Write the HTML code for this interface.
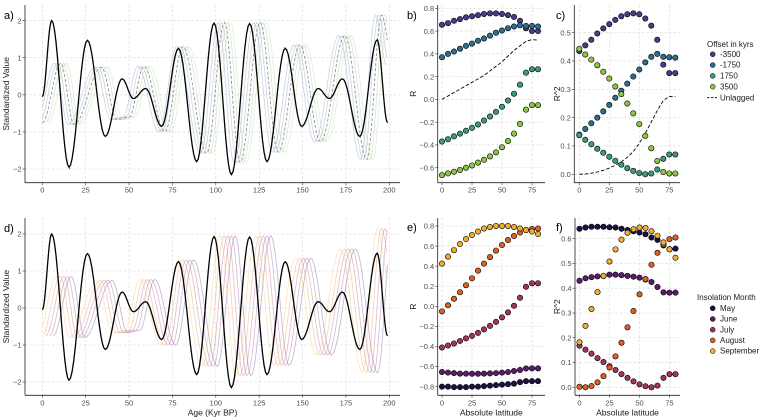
<!DOCTYPE html>
<html><head><meta charset="utf-8"><style>
html,body{margin:0;padding:0;background:#fff;}
svg{display:block;font-family:"Liberation Sans",sans-serif;}
.tk{font-size:7.5px;fill:#4d4d4d;}
.ttl{font-size:8.5px;fill:#1a1a1a;}
.lt{font-size:11px;fill:#000;}
.lg{font-size:8px;fill:#1a1a1a;}
</style></head><body>
<svg id="root" width="761" height="420" viewBox="0 0 761 420"></svg>
<script>
// ---------- data ----------
const blackT = [0,5.4,15.4,26,36.3,46,52.5,59.6,68.8,78.5,89,99,109,119.5,129.5,140,149.5,159,165.5,173,183,193,199];
const blackV = [-0.05,2.0,-1.95,1.47,-1.12,0.43,-0.1,0.17,-0.85,1.25,-1.8,1.93,-2.15,1.92,-1.8,1.25,-0.85,0.17,-0.1,0.43,-1.12,1.48,-0.75];
const baseT = [0,10.6,18.3,34,43,50,58.6,70.7,81,94.7,105,114,125.5,136,148.5,160.4,174.4,187,195.6,202];
const baseV = [-0.75,0.85,-0.8,0.75,-0.67,-0.6,0.77,-1.0,1.3,-1.58,1.95,-1.83,1.95,-1.55,1.35,-1.27,1.6,-1.75,2.15,0.8];
const offsetLags = [-3.5,-1.75,0,1.75,3.5];
const monthLags = [6.2,4,1.9,-0.2,-2.5];
const lat = [0,5,10,15,20,25,30,35,40,45,50,55,60,65,70,75,80];
const offNames = ["-3500","-1750","1750","3500"];
const offColors = ["#433f85","#2d6e8e","#3a9a7a","#8cc63f"];
const bR = [
 [0.655,0.67,0.69,0.705,0.72,0.73,0.74,0.75,0.755,0.755,0.75,0.74,0.725,0.69,0.625,0.60,0.60],
 [0.37,0.40,0.42,0.445,0.47,0.49,0.515,0.535,0.56,0.585,0.605,0.625,0.64,0.65,0.645,0.645,0.64],
 [-0.37,-0.35,-0.325,-0.30,-0.275,-0.25,-0.22,-0.185,-0.15,-0.11,-0.065,-0.01,0.05,0.13,0.235,0.265,0.265],
 [-0.665,-0.65,-0.635,-0.62,-0.60,-0.58,-0.555,-0.53,-0.50,-0.465,-0.42,-0.365,-0.30,-0.215,-0.09,-0.05,-0.05]];
const bUnlag = [0,0.03,0.06,0.09,0.12,0.15,0.18,0.21,0.25,0.29,0.33,0.38,0.43,0.47,0.51,0.525,0.52];
const cR2 = [
 [0.435,0.455,0.475,0.497,0.515,0.53,0.545,0.558,0.565,0.568,0.565,0.55,0.525,0.475,0.387,0.357,0.357],
 [0.14,0.16,0.18,0.2,0.222,0.245,0.27,0.295,0.32,0.345,0.37,0.395,0.415,0.425,0.415,0.413,0.412],
 [0.138,0.122,0.106,0.09,0.076,0.062,0.048,0.034,0.022,0.012,0.004,0.0,0.003,0.017,0.055,0.07,0.07],
 [0.443,0.423,0.405,0.385,0.362,0.338,0.31,0.283,0.25,0.215,0.177,0.135,0.092,0.047,0.008,0.003,0.003]];
const cUnlag = [0,0.001,0.004,0.008,0.014,0.022,0.032,0.044,0.06,0.08,0.11,0.145,0.185,0.225,0.26,0.275,0.275];
const monNames = ["May","June","July","August","September"];
const monColors = ["#1f0f47","#5f1a6e","#a3345a","#de5f26","#f2ae2a"];
const eR = [
 [-0.80,-0.80,-0.805,-0.805,-0.805,-0.80,-0.80,-0.795,-0.79,-0.785,-0.78,-0.775,-0.77,-0.755,-0.745,-0.745,-0.745],
 [-0.655,-0.66,-0.665,-0.67,-0.67,-0.672,-0.672,-0.67,-0.668,-0.665,-0.66,-0.655,-0.645,-0.635,-0.62,-0.618,-0.618],
 [-0.41,-0.39,-0.37,-0.345,-0.32,-0.295,-0.265,-0.23,-0.195,-0.155,-0.11,-0.06,0.005,0.085,0.195,0.23,0.23],
 [-0.05,0.01,0.075,0.14,0.21,0.28,0.355,0.425,0.49,0.555,0.61,0.66,0.70,0.735,0.76,0.77,0.775],
 [0.425,0.495,0.56,0.62,0.67,0.71,0.745,0.775,0.79,0.80,0.80,0.80,0.79,0.775,0.76,0.745,0.72]];
const fR2 = [
 [0.64,0.645,0.648,0.648,0.648,0.646,0.645,0.64,0.635,0.63,0.625,0.618,0.605,0.595,0.573,0.558,0.56],
 [0.43,0.44,0.445,0.448,0.45,0.455,0.455,0.453,0.45,0.447,0.443,0.435,0.425,0.405,0.383,0.382,0.382],
 [0.168,0.152,0.136,0.118,0.102,0.085,0.07,0.053,0.038,0.024,0.012,0.004,0.0,0.007,0.038,0.053,0.053],
 [0.002,0.0,0.005,0.02,0.045,0.08,0.125,0.18,0.242,0.308,0.375,0.437,0.495,0.543,0.577,0.598,0.605],
 [0.182,0.248,0.316,0.384,0.45,0.508,0.557,0.596,0.624,0.638,0.645,0.643,0.63,0.612,0.585,0.557,0.523]];
const ageTicks = [0,25,50,75,100,125,150,175,200];
const stdTicks = [-2,-1,0,1,2];
const latTicks = [0,25,50,75];
const bTicks = [-0.6,-0.4,-0.2,0.0,0.2,0.4,0.6,0.8];
const cTicks = [0.0,0.1,0.2,0.3,0.4,0.5];
const eTicks = [-0.8,-0.6,-0.4,-0.2,0.0,0.2,0.4,0.6,0.8];
const fTicks = [0.0,0.1,0.2,0.3,0.4,0.5,0.6];

// ---------- helpers ----------
const NS="http://www.w3.org/2000/svg";
const root=document.getElementById('root');
function mk(tag,attrs,parent){const e=document.createElementNS(NS,tag);for(const k in attrs)e.setAttribute(k,attrs[k]);(parent||root).appendChild(e);return e;}
function txt(s,x,y,cls,anchor,parent,rot){const e=mk('text',{x:x,y:y,class:cls,'text-anchor':anchor||'start'},parent);if(rot)e.setAttribute('transform','rotate(-90 '+x+' '+y+')');e.textContent=s;return e;}
function fmt(v,d){let s=v.toFixed(d);if(v<0)s='\u2212'+Math.abs(v).toFixed(d);return s;}

function panel(name,P){
  const g=mk('g',{});
  
  
  const sx=v=>P.x0+(v-P.xmin)*P.kx, sy=v=>P.y0-(v-P.ymin)*P.ky;
  P.xt.forEach(v=>{const l=mk('line',{x1:sx(v),x2:sx(v),y1:P.top,y2:P.bot,stroke:'#d6d6d6','stroke-width':0.6,'stroke-dasharray':'2.5,2'},g);});
  P.yt.forEach(v=>{const l=mk('line',{x1:P.left,x2:P.right,y1:sy(v),y2:sy(v),stroke:'#d6d6d6','stroke-width':0.6,'stroke-dasharray':'2.5,2'},g);});
  const ax=mk('line',{x1:P.left,x2:P.right,y1:P.bot,y2:P.bot,stroke:'#222','stroke-width':0.8},g);
  const ay=mk('line',{x1:P.left,x2:P.left,y1:P.top,y2:P.bot,stroke:'#222','stroke-width':0.8},g);
  P.xt.forEach(v=>{mk('line',{x1:sx(v),x2:sx(v),y1:P.bot,y2:P.bot+2.5,stroke:'#333','stroke-width':0.6},g);const t=txt(String(v),sx(v),P.bot+10,'tk','middle',g);});
  P.yt.forEach(v=>{mk('line',{x1:P.left-2.5,x2:P.left,y1:sy(v),y2:sy(v),stroke:'#333','stroke-width':0.6},g);const t=txt(fmt(v,P.yd),P.left-3.5,sy(v)+2.7,'tk','end',g);});
  const yl=txt(P.ylab,P.ylx,(P.top+P.bot)/2,'ttl','middle',g,true);
  if(P.xlab){const xl=txt(P.xlab,(P.left+P.right)/2,P.bot+20,'ttl','middle',g);}
  const pl=txt(P.letter,P.lx,P.ly,'lt','start',g);
  const clip='c'+name;const cp=mk('clipPath',{id:clip},g);mk('rect',{x:P.left,y:P.top-3,width:P.right-P.left,height:P.bot-P.top+3},cp);
  const data=mk('g',{'clip-path':'url(#'+clip+')'},g);
  return {g:data,sx:sx,sy:sy};
}
function wavePath(T,V,lag,sx,sy,lo,hi){
  let d='';
  for(let i=0;i<T.length-1;i++){
    for(let s=0;s<=12;s++){
      const f=s/12;const t=T[i]+(T[i+1]-T[i])*f+lag;
      if(t<lo||t>hi)continue;
      const v=V[i]+(V[i+1]-V[i])*(1-Math.cos(Math.PI*f))/2;
      d+=(d?'L':'M')+sx(t).toFixed(2)+','+sy(v).toFixed(2);
    }
  }
  return d;
}
function tsPanel(name,P,lags,colors,dashIdx){
  const p=panel(name,P);
  lags.forEach((lag,i)=>{
    const path=mk('path',{d:wavePath(baseT,baseV,lag,p.sx,p.sy,0,199),fill:'none',stroke:colors[i],'stroke-width':0.85,'stroke-opacity':i===dashIdx?0.85:0.4,'stroke-dasharray':i===dashIdx?'3,2':'none'},p.g);
    
    
  });
  const bl=mk('path',{d:wavePath(blackT,blackV,0,p.sx,p.sy,0,199),fill:'none',stroke:'#000','stroke-width':1.3},p.g);
  
  
}
function scatterPanel(name,P,series,colors,unlag){
  const p=panel(name,P);
  if(unlag){
    let d='';lat.forEach((x,i)=>{d+=(i?'L':'M')+p.sx(x).toFixed(2)+','+p.sy(unlag[i]).toFixed(2);});
    const l=mk('path',{d:d,fill:'none',stroke:'#000','stroke-width':0.9,'stroke-dasharray':'3.5,2'},p.g);
    
    
  }
  series.forEach((s,k)=>{
    s.forEach((v,i)=>{
      const c=mk('circle',{cx:p.sx(lat[i]),cy:p.sy(v),r:2.7,fill:colors[k],stroke:'#000','stroke-width':0.6},p.g);
      
      
    });
  });
}

// ---------- panels ----------
const aP={x0:42.3,xmin:0,kx:1.735,y0:94.8,ymin:0,ky:37.1,left:25,right:400,top:5,bot:182.7,xt:ageTicks,yt:stdTicks,yd:0,ylab:'Standardized Value',ylx:9,letter:'a)',lx:4,ly:19};
const dP=Object.assign({},aP,{y0:308,ky:37,top:218,bot:395.3,letter:'d)',ly:232,xlab:'Age (Kyr BP)'});
const offColorsLine=["#8a90c0","#7aa0b8","#777777","#99c7a0","#b5dc8f"];
tsPanel('panel-a',aP,offsetLags,offColorsLine,2);
const monColorsLine=["#6a4a8f","#9a5a9a","#c0607a","#e99060","#f5c25a"];
tsPanel('panel-d',dP,monthLags,monColorsLine,-1);

const bP={x0:442,xmin:0,kx:1.2,y0:99.4,ymin:0,ky:113.9,left:437.7,right:545,top:5,bot:182.7,xt:latTicks,yt:bTicks,yd:1,ylab:'R',ylx:416,letter:'b)',lx:407,ly:19};
scatterPanel('panel-b',bP,bR,offColors,bUnlag);
const cP={x0:579.3,xmin:0,kx:1.2,y0:174.3,ymin:0,ky:283.3,left:574.3,right:680,top:5,bot:182.7,xt:latTicks,yt:cTicks,yd:1,ylab:'R^2',ylx:560,letter:'c)',lx:556,ly:19};
scatterPanel('panel-c',cP,cR2,offColors,cUnlag);
const eP={x0:442,xmin:0,kx:1.2,y0:306.3,ymin:0,ky:100.4,left:437.7,right:545,top:218,bot:395.3,xt:latTicks,yt:eTicks,yd:1,ylab:'R',ylx:416,letter:'e)',lx:407,ly:231,xlab:'Absolute latitude'};
scatterPanel('panel-e',eP,eR,monColors,null);
const fP={x0:579.5,xmin:0,kx:1.2,y0:387.3,ymin:0,ky:247.7,left:575,right:680,top:218,bot:395.3,xt:latTicks,yt:fTicks,yd:1,ylab:'R^2',ylx:560,letter:'f)',lx:556,ly:231,xlab:'Absolute latitude'};
scatterPanel('panel-f',fP,fR2,monColors,null);

// ---------- legends ----------
const lg1=mk('g',{});


txt('Offset in kyrs',707,47,'lg','start',lg1);
offNames.forEach((n,i)=>{const y=54.3+i*10.8;const c=mk('circle',{cx:712.7,cy:y,r:2.5,fill:offColors[i],stroke:'#000','stroke-width':0.5},lg1);const t=txt(n,720,y+2.6,'lg','start',lg1);});
mk('line',{x1:707,x2:717,y1:97.7,y2:97.7,stroke:'#000','stroke-width':0.9,'stroke-dasharray':'2.5,1.5'},lg1);
const ul=txt('Unlagged',720,100.3,'lg','start',lg1);

const lg2=mk('g',{});


txt('Insolation Month',697,300,'lg','start',lg2);
monNames.forEach((n,i)=>{const y=308.3+i*10.7;const c=mk('circle',{cx:712.7,cy:y,r:2.5,fill:monColors[i],stroke:'#000','stroke-width':0.5},lg2);const t=txt(n,720,y+2.6,'lg','start',lg2);});
</script>
</body></html>
